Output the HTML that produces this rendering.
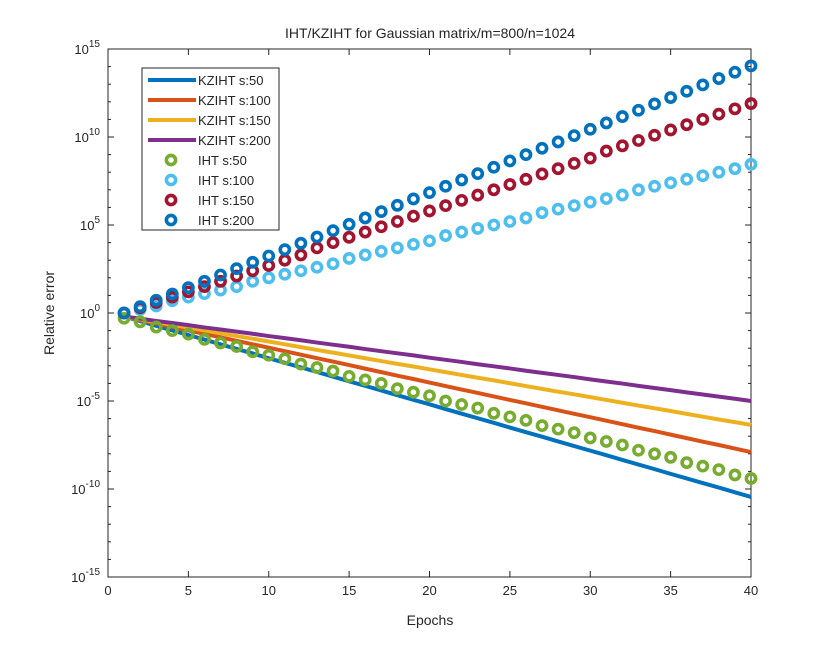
<!DOCTYPE html>
<html><head><meta charset="utf-8"><style>
body{margin:0;background:#fff;}
svg text{font-family:"Liberation Sans",sans-serif;fill:#262626;}
</style></head><body>
<svg id="chart" width="830" height="650" xmlns="http://www.w3.org/2000/svg">
<rect width="830" height="650" fill="#fff"/>
<text x="430" y="38" font-size="14" text-anchor="middle">IHT/KZIHT for Gaussian matrix/m=800/n=1024</text>
<text x="430" y="625" font-size="14" text-anchor="middle">Epochs</text>
<text x="54" y="313" font-size="14" text-anchor="middle" transform="rotate(-90 54 313)">Relative error</text>
<g id="plot"></g>
</svg>
<script>
const epochs=[1,2,3,4,5,6,7,8,9,10,11,12,13,14,15,16,17,18,19,20,21,22,23,24,25,26,27,28,29,30,31,32,33,34,35,36,37,38,39,40];
const kz50=[-0.20,-0.46,-0.73,-0.99,-1.25,-1.51,-1.78,-2.04,-2.30,-2.57,-2.83,-3.09,-3.35,-3.62,-3.88,-4.14,-4.40,-4.67,-4.93,-5.19,-5.46,-5.72,-5.98,-6.24,-6.51,-6.77,-7.03,-7.30,-7.56,-7.82,-8.08,-8.35,-8.61,-8.87,-9.14,-9.40,-9.66,-9.92,-10.19,-10.45];
const kz100=[-0.20,-0.40,-0.59,-0.79,-0.99,-1.19,-1.38,-1.58,-1.78,-1.97,-2.17,-2.37,-2.57,-2.76,-2.96,-3.16,-3.36,-3.56,-3.75,-3.95,-4.15,-4.35,-4.54,-4.74,-4.94,-5.13,-5.33,-5.53,-5.73,-5.92,-6.12,-6.32,-6.52,-6.71,-6.91,-7.11,-7.31,-7.50,-7.70,-7.90];
const kz150=[-0.20,-0.36,-0.52,-0.67,-0.83,-0.99,-1.15,-1.31,-1.46,-1.62,-1.78,-1.94,-2.10,-2.25,-2.41,-2.57,-2.73,-2.89,-3.04,-3.20,-3.36,-3.52,-3.68,-3.83,-3.99,-4.15,-4.31,-4.47,-4.62,-4.78,-4.94,-5.10,-5.26,-5.41,-5.57,-5.73,-5.89,-6.05,-6.20,-6.36];
const kz200=[-0.20,-0.32,-0.45,-0.57,-0.69,-0.82,-0.94,-1.06,-1.18,-1.31,-1.43,-1.55,-1.68,-1.80,-1.92,-2.05,-2.17,-2.29,-2.41,-2.54,-2.66,-2.78,-2.91,-3.03,-3.15,-3.28,-3.40,-3.52,-3.64,-3.77,-3.89,-4.01,-4.14,-4.26,-4.38,-4.51,-4.63,-4.75,-4.87,-5.00];
const iht50=[-0.3,-0.5,-0.8,-1.0,-1.2,-1.5,-1.7,-1.9,-2.2,-2.4,-2.6,-2.9,-3.1,-3.3,-3.6,-3.8,-4.0,-4.3,-4.5,-4.7,-5.0,-5.2,-5.4,-5.7,-5.9,-6.1,-6.4,-6.6,-6.8,-7.1,-7.3,-7.5,-7.8,-8.0,-8.2,-8.5,-8.7,-8.9,-9.2,-9.4];
const iht100=[0,0.2,0.4,0.7,0.9,1.1,1.3,1.5,1.8,2.0,2.2,2.4,2.6,2.8,3.1,3.3,3.5,3.7,3.9,4.1,4.4,4.6,4.8,5.0,5.2,5.4,5.7,5.9,6.1,6.3,6.5,6.7,7.0,7.2,7.4,7.6,7.8,8.0,8.2,8.45];
const iht150=[0,0.3,0.6,0.9,1.2,1.5,1.8,2.1,2.4,2.7,3.0,3.3,3.7,4.0,4.3,4.6,4.9,5.2,5.5,5.8,6.1,6.4,6.7,7.0,7.3,7.6,7.9,8.2,8.5,8.8,9.2,9.5,9.8,10.1,10.4,10.7,11.0,11.3,11.6,11.9];
const iht200=[0,0.36,0.72,1.08,1.44,1.8,2.16,2.52,2.88,3.24,3.6,3.96,4.32,4.68,5.04,5.4,5.76,6.12,6.48,6.84,7.2,7.56,7.92,8.28,8.64,9.0,9.36,9.72,10.08,10.44,10.8,11.16,11.52,11.88,12.24,12.6,12.96,13.32,13.68,14.04];
const xTicks=[0,5,10,15,20,25,30,35,40];
const yTicks=[-15,-10,-5,0,5,10,15];
const lineLabels=["KZIHT s:50","KZIHT s:100","KZIHT s:150","KZIHT s:200"];
const markLabels=["IHT s:50","IHT s:100","IHT s:150","IHT s:200"];

const L=108,R=751,T=49,B=577;
const sx=v=>L+(v-0)/(40-0)*(R-L);
const sy=v=>B-(v+15)/30*(B-T);
const NS="http://www.w3.org/2000/svg";
const g=document.getElementById('plot');
function mk(tag,attrs,parent){const e=document.createElementNS(NS,tag);for(const k in attrs)e.setAttribute(k,attrs[k]);(parent||g).appendChild(e);return e;}

const axes=mk('rect',{x:L,y:T,width:R-L,height:B-T,fill:'#fff',stroke:'#262626','stroke-width':1});


xTicks.forEach(t=>{
  const x=sx(t);
  mk('line',{x1:x,x2:x,y1:B,y2:B-6,stroke:'#262626'});
  mk('line',{x1:x,x2:x,y1:T,y2:T+6,stroke:'#262626'});
  const tx=mk('text',{x:x,y:B+18,'font-size':13,'text-anchor':'middle'});
  tx.textContent=t;
  
  
});
for(let d=-15;d<=15;d++){
  const y=sy(d);const major=(d%5===0);
  const len=major?6:3;
  mk('line',{x1:L,x2:L+len,y1:y,y2:y,stroke:'#262626'});
  mk('line',{x1:R,x2:R-len,y1:y,y2:y,stroke:'#262626'});
}
yTicks.forEach(t=>{
  const y=sy(t);
  const tx=mk('text',{x:L-8,y:y+5,'font-size':13,'text-anchor':'end'});
  tx.innerHTML='10<tspan dy="-7" font-size="10">'+t+'</tspan>';
  
  
});

const lineSeries=[kz50,kz100,kz150,kz200];
const lineColors=['#0072BD','#D95319','#EDB120','#7E2F8E'];
lineSeries.forEach((s,i)=>{
  const p=mk('polyline',{points:s.map((v,j)=>sx(epochs[j])+','+sy(v)).join(' '),fill:'none',stroke:lineColors[i],'stroke-width':4,'stroke-linejoin':'round'});
  
  
});
const markSeries=[iht50,iht100,iht150,iht200];
const markColors=['#77AC30','#4DBEEE','#A2142F','#0072BD'];
markSeries.forEach((s,i)=>{
  s.forEach((v,j)=>{
    const c=mk('circle',{cx:sx(epochs[j]),cy:sy(v),r:4.6,fill:'none',stroke:markColors[i],'stroke-width':3.6});
    
    
  });
});

const lg=mk('g',{});


mk('rect',{x:142,y:68,width:137,height:162,fill:'#fff',stroke:'#262626','stroke-width':1},lg);
lineLabels.forEach((lab,i)=>{
  const y=80+i*20;
  mk('line',{x1:148,x2:196,y1:y,y2:y,stroke:lineColors[i],'stroke-width':4},lg);
  const t=mk('text',{x:198,y:y+5,'font-size':13},lg);
  t.textContent=lab;
  
  
});
markLabels.forEach((lab,i)=>{
  const y=160+i*20;
  mk('circle',{cx:171,cy:y,r:4.6,fill:'none',stroke:markColors[i],'stroke-width':3.6},lg);
  const t=mk('text',{x:198,y:y+5,'font-size':13},lg);
  t.textContent=lab;
  
  
});
</script>
</body></html>
